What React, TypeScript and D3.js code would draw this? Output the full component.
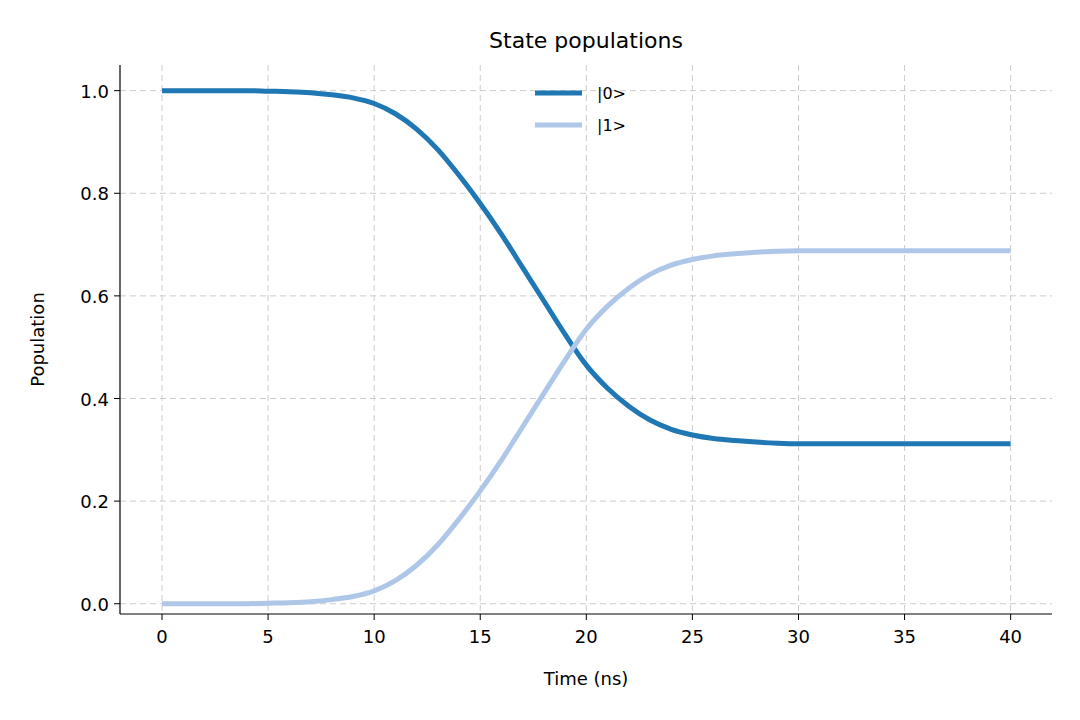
import React from "react";
import * as d3 from "d3";

const times = d3.range(0, 41);
const pop0 = [1,1,1,1,1,0.999,0.998,0.996,0.992,0.986,0.975,0.955,0.925,0.885,0.835,0.78,0.72,0.655,0.59,0.525,0.465,0.42,0.385,0.358,0.34,0.329,0.322,0.318,0.315,0.313,0.312,0.312,0.312,0.312,0.312,0.312,0.312,0.312,0.312,0.312,0.312];
const pop1 = [0,0,0,0,0,0.001,0.002,0.004,0.008,0.014,0.025,0.045,0.075,0.115,0.165,0.22,0.28,0.345,0.41,0.475,0.535,0.58,0.615,0.642,0.66,0.671,0.678,0.682,0.685,0.687,0.688,0.688,0.688,0.688,0.688,0.688,0.688,0.688,0.688,0.688,0.688];
const xTicks = [0,5,10,15,20,25,30,35,40];
const yTicks = [0,0.2,0.4,0.6,0.8,1.0];
const series = [
  { label: "|0>", values: pop0, color: "#1f77b4" },
  { label: "|1>", values: pop1, color: "#aec7e8" },
];

export default function App() {
  const W = 1080, H = 720;
  const left = 120, right = 1052, top = 65, bottom = 614;
  const x = d3.scaleLinear().domain([-1.98, 41.95]).range([left, right]);
  const y = d3.scaleLinear().domain([-0.02, 1.05]).range([bottom, top]);
  const font = "DejaVu Sans, sans-serif";
  return (
    <svg width={W} height={H} style={{ position: "absolute", left: 0, top: 0 }} fontFamily={font}>
      <rect width={W} height={H} fill="#fff" />
      {xTicks.map(t => (
        <line key={"gx" + t} x1={x(t)} x2={x(t)} y1={top} y2={bottom} stroke="#ccc" strokeDasharray="6,4" strokeWidth={1} />
      ))}
      {yTicks.map(t => (
        <line key={"gy" + t} x1={left} x2={right} y1={y(t)} y2={y(t)} stroke="#ccc" strokeDasharray="6,4" strokeWidth={1} />
      ))}
      {series.map(s => (
        <path key={s.label}
          d={d3.line<number>().x((_, i) => x(times[i])).y(v => y(v)).curve(d3.curveMonotoneX)(s.values) || ""}
          fill="none" stroke={s.color} strokeWidth={5} />
      ))}
      <line x1={left} x2={left} y1={top} y2={bottom} stroke="#000" strokeWidth={1.2} />
      <line x1={left} x2={right} y1={bottom} y2={bottom} stroke="#000" strokeWidth={1.2} />
      {xTicks.map(t => (
        <g key={"tx" + t}>
          <line x1={x(t)} x2={x(t)} y1={bottom} y2={bottom + 6} stroke="#000" />
          <text x={x(t)} y={bottom + 29} textAnchor="middle" fontSize={18}>{t}</text>
        </g>
      ))}
      {yTicks.map(t => (
        <g key={"ty" + t}>
          <line x1={left - 6} x2={left} y1={y(t)} y2={y(t)} stroke="#000" />
          <text x={left - 11} y={y(t) + 7} textAnchor="end" fontSize={18}>{t.toFixed(1)}</text>
        </g>
      ))}
      <text x={(left + right) / 2} y={685} textAnchor="middle" fontSize={18}>Time (ns)</text>
      <text transform={`translate(44,${(top + bottom) / 2}) rotate(-90)`} textAnchor="middle" fontSize={18}>Population</text>
      <text x={586} y={48} textAnchor="middle" fontSize={22}>State populations</text>
      {series.map((s, i) => (
        <g key={"lg" + s.label}>
          <line x1={535} x2={582} y1={93 + i * 32} y2={93 + i * 32} stroke={s.color} strokeWidth={5} />
          <text x={597} y={99 + i * 32} fontSize={16}>{s.label}</text>
        </g>
      ))}
    </svg>
  );
}
